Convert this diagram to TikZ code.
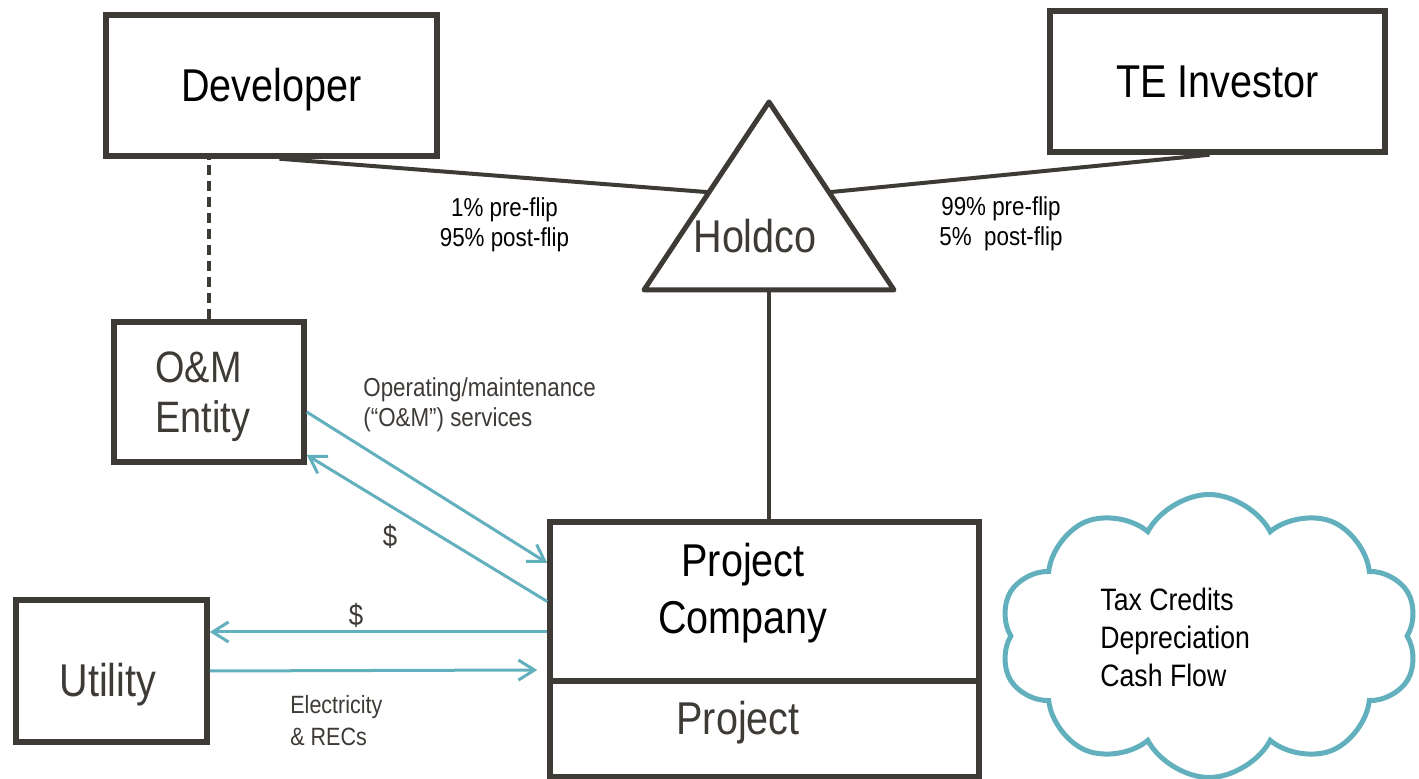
\documentclass[tikz,border=0pt]{standalone}
\usepackage{fontspec}
\setmainfont[FakeStretch=0.86]{Liberation Sans}
\usetikzlibrary{arrows.meta,shapes.symbols,calc}
\definecolor{linegray}{RGB}{62,58,54}
\definecolor{flowteal}{RGB}{98,176,189}
\tikzset{
  entity/.style={draw=linegray, line width=2.75pt, inner sep=0pt,
    text height=16.5pt, text depth=0pt},
  bigtxt/.style={font=\fontsize{23}{28.5}\selectfont, inner sep=0pt},
  smalltxt/.style={font=\fontsize{13}{15}\selectfont, inner sep=0pt},
  owner/.style={draw=linegray, line width=2pt},
  flow/.style={draw=flowteal, line width=1.5pt,
    -{Straight Barb[length=8pt,width=10pt]}},
}

\begin{document}
\begin{tikzpicture}[x=0.5pt,y=-0.5pt]
  \useasboundingbox (0,0) rectangle (1419,779);

  % parties
  \node[entity, bigtxt, minimum width=165.5pt, minimum height=70.5pt] (dev) at (271.5,85.5) {Developer};
  \node[entity, bigtxt, minimum width=167.5pt, minimum height=70.5pt] (te) at (1217.5,81.5) {TE Investor};
  \node[entity, minimum width=95pt, minimum height=70pt] (om) at (209,392) {};
  \node[entity, minimum width=95.5pt, minimum height=71pt] (ut) at (111.5,671) {};
  \node[entity, minimum width=214.5pt, minimum height=79.5pt] (pc) at (764.5,601.5) {};
  \node[entity, minimum width=214.5pt, minimum height=48pt] (proj) at (764.5,729) {};

  \node[bigtxt, text=linegray, align=left, anchor=west, font=\fontsize{22}{25}\selectfont] (omtxt) at (155,396.5) {O\&M\\Entity};
  \node[bigtxt, text=linegray, anchor=base] (uttxt) at (108,697) {Utility};
  \node[bigtxt, align=center] (pctxt) at (743,593) {Project\\Company};
  \node[bigtxt, text=linegray, anchor=base] (projtxt) at (738,735) {Project};

  % holdco
  \coordinate (hc-top) at (769,102);
  \coordinate (hc-left) at (644,290);
  \coordinate (hc-right) at (894,290);
  \coordinate (hc-base) at (769,290);
  \coordinate (hc-dl) at ($(hc-top)!0.48!(hc-left)$);
  \coordinate (hc-dr) at ($(hc-top)!0.48!(hc-right)$);
  \draw[linegray, line width=2.5pt, line join=round] (hc-top) -- (hc-left) -- (hc-right) -- cycle;
  \node[bigtxt, text=linegray, anchor=base] (hctxt) at (755,253) {Holdco};

  % ownership
  \draw[owner] ([xshift=4pt]dev.south) -- (hc-dl);
  \draw[owner] (hc-dr) -- ([xshift=-4pt]te.south);
  \draw[owner, line width=1.75pt, dash pattern=on 5pt off 3pt] (om.north) -- (om.north |- dev.south);
  \draw[owner] (hc-base) -- (hc-base |- pc.north);

  \node[smalltxt, align=center] (devpct) at (504.5,225) {1\% pre-flip\\95\% post-flip};
  \node[smalltxt, align=center] (tepct) at (1001,224) {99\% pre-flip\\5\%\ \ post-flip};

  % contracts
  \draw[flow] ([yshift=-10pt]om.east) -- ([yshift=19.25pt]pc.west);
  \draw[flow] (pc.west) -- ([yshift=-31.5pt]om.east);
  \draw[flow] ([yshift=-15.25pt]pc.west) -- ([yshift=19.5pt]ut.east);
  \draw[flow] (ut.east) -- ([xshift=-5pt,yshift=-34.25pt]pc.west);

  \node[smalltxt, text=linegray, align=left, anchor=west] (omsvc) at (363,405) {Operating/maintenance\\(``O\&M'') services};
  \node[font=\fontsize{15}{18}\selectfont, inner sep=0pt, text=linegray, anchor=base] (omfee) at (390,547) {\$};
  \node[font=\fontsize{15}{18}\selectfont, inner sep=0pt, text=linegray, anchor=base] (utfee) at (356,626) {\$};
  \node[font=\fontsize{12.5}{16}\selectfont, inner sep=0pt, text=linegray, align=left, anchor=west] (elec) at (290,720.5) {Electricity\\\& RECs};

  % benefits
  \node[cloud, cloud puffs=10, cloud puff arc=125, aspect=1.48, draw=flowteal, line width=2.5pt,
    minimum width=209pt, minimum height=141.5pt] (cf) at (1209,636) {};
  \node[font=\fontsize{15.5}{19}\selectfont, inner sep=0pt, align=left, anchor=west] (cftxt) at (1100,637.5) {Tax Credits\\Depreciation\\Cash Flow};
\end{tikzpicture}
\end{document}
